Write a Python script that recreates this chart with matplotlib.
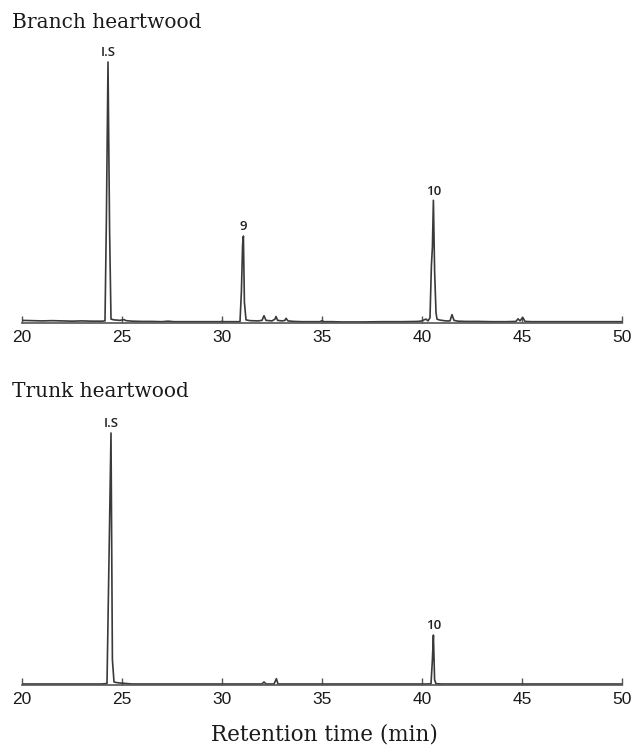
import matplotlib
matplotlib.use("Agg")
import matplotlib.pyplot as plt

# Branch heartwood trace (time in min, relative intensity)
branch_time = [20.0, 20.5, 21.0, 21.5, 22.0, 22.5, 23.0, 23.5, 24.0, 24.15, 24.22, 24.3, 24.38, 24.45,
               24.6, 24.9, 25.1, 25.2, 25.5, 26.0, 26.5, 27.0, 27.3, 27.6, 28.0, 29.0, 29.9, 30.0, 30.1,
               30.9, 30.97, 31.03, 31.07, 31.12, 31.2, 31.4, 31.8, 32.0, 32.1, 32.2, 32.5, 32.65, 32.7,
               32.78, 33.0, 33.15, 33.2, 33.3, 33.6, 34.0, 34.9, 35.0, 35.1, 35.5, 36.0, 37.0, 38.0,
               39.0, 39.8, 40.0, 40.1, 40.2, 40.3, 40.4, 40.47, 40.52, 40.57, 40.63, 40.7, 40.75, 40.85,
               41.0, 41.2, 41.4, 41.5, 41.6, 41.8, 42.2, 42.8, 43.5, 44.2, 44.7, 44.8, 44.9, 45.0, 45.05,
               45.15, 45.5, 46.5, 47.5, 48.5, 49.5, 50.0]
branch_int = [1.0, 0.9, 0.8, 0.9, 0.8, 0.7, 0.8, 0.7, 0.7, 0.8, 40.0, 100.0, 35.0, 1.5,
              1.2, 1.0, 1.3, 0.9, 0.7, 0.6, 0.6, 0.5, 0.7, 0.5, 0.5, 0.5, 0.5, 0.6, 0.5,
              0.5, 12.0, 30.0, 33.3, 8.0, 1.2, 0.9, 0.8, 1.0, 2.8, 1.0, 0.8, 1.5, 2.5,
              1.0, 0.8, 1.0, 1.8, 0.8, 0.6, 0.5, 0.5, 0.9, 0.5, 0.5, 0.4, 0.4, 0.5,
              0.5, 0.6, 0.8, 1.2, 1.5, 0.8, 2.0, 22.0, 29.0, 47.0, 20.0, 4.0, 1.5, 1.2,
              1.0, 0.8, 0.8, 3.2, 1.0, 0.7, 0.6, 0.6, 0.5, 0.5, 0.6, 1.6, 0.8, 1.8, 2.0,
              0.6, 0.5, 0.5, 0.5, 0.5, 0.5, 0.5]

# Trunk heartwood trace
trunk_time = [20.0, 21.0, 22.0, 23.0, 24.0, 24.25, 24.35, 24.45, 24.52, 24.6, 24.7, 24.9, 25.2,
              25.5, 26.5, 28.0, 30.0, 32.0, 32.1, 32.2, 32.6, 32.72, 32.8, 33.5, 35.0, 37.0,
              39.0, 40.3, 40.45, 40.52, 40.57, 40.63, 40.7, 41.0, 43.0, 46.0, 50.0]
trunk_int = [0.4, 0.4, 0.4, 0.4, 0.4, 0.6, 50.0, 100.0, 10.0, 1.2, 1.0, 0.8, 0.6,
             0.4, 0.4, 0.4, 0.4, 0.4, 1.2, 0.4, 0.4, 2.5, 0.4, 0.4, 0.4, 0.4,
             0.4, 0.4, 0.5, 10.0, 19.8, 2.0, 0.5, 0.4, 0.4, 0.4, 0.4]

# Peak annotations
branch_peaks = ["I.S", "9", "10"]
branch_peak_t = [24.3, 31.07, 40.57]
branch_peak_h = [100.0, 33.3, 47.0]
trunk_peaks = ["I.S", "10"]
trunk_peak_t = [24.45, 40.57]
trunk_peak_h = [100.0, 19.8]

xticks = [20, 25, 30, 35, 40, 45, 50]

W, H = 634, 749
fig = plt.figure(figsize=(W / 100, H / 100), dpi=100)

line_color = "#3a3a3a"
axis_color = "#555555"


def make_axes(bottom_px, top_px):
    left = 22 / W
    width = 600 / W
    return fig.add_axes([left, 1 - bottom_px / H, width, (bottom_px - top_px) / H])


def style(ax):
    for s in ["top", "left", "right"]:
        ax.spines[s].set_visible(False)
    ax.spines["bottom"].set_color(axis_color)
    ax.spines["bottom"].set_linewidth(1.2)
    ax.set_yticks([])
    ax.set_xlim(20, 50)
    ax.set_xticks(xticks)
    ax.set_xticklabels([str(t) for t in xticks], family="Liberation Sans", fontsize=12.5,
                       color="#1a1a1a")
    ax.tick_params(axis="x", direction="in", length=5, width=1, color=axis_color, pad=5)
    ax.patch.set_alpha(0)


ax1 = make_axes(323, 55)
ax1.plot(branch_time, branch_int, color=line_color, lw=1.2)
ax1.set_ylim(0, 100 * 268 / 261)
style(ax1)
for lab, t, h in zip(branch_peaks, branch_peak_t, branch_peak_h):
    ax1.annotate(lab, (t, h), xytext=(0, 2), textcoords="offset points", ha="center", va="bottom",
                 family="Open Sans", fontsize=9.5, fontweight="semibold", color="#222222")

ax2 = make_axes(685, 425)
ax2.plot(trunk_time, trunk_int, color=line_color, lw=1.2)
ax2.set_ylim(0, 100 * 260 / 252)
style(ax2)
for lab, t, h in zip(trunk_peaks, trunk_peak_t, trunk_peak_h):
    ax2.annotate(lab, (t, h), xytext=(0, 2), textcoords="offset points", ha="center", va="bottom",
                 family="Open Sans", fontsize=9.5, fontweight="semibold", color="#222222")

fig.text(12 / W, 1 - 22 / H, "Branch heartwood", family="DejaVu Serif", fontsize=14.5,
         va="center", ha="left", color="#1a1a1a")
fig.text(12 / W, 1 - 392 / H, "Trunk heartwood", family="DejaVu Serif", fontsize=14.5,
         va="center", ha="left", color="#1a1a1a")
fig.text(324 / W, 1 - 735 / H, "Retention time (min)", family="DejaVu Serif", fontsize=15.5,
         va="center", ha="center", color="#1a1a1a")

fig.savefig("out.png", dpi=100)
